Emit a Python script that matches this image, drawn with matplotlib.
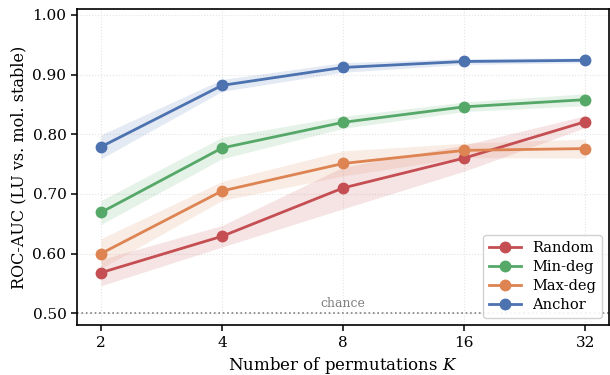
import numpy as np
import matplotlib
matplotlib.use("Agg")
import matplotlib.pyplot as plt

# data
K = [2, 4, 8, 16, 32]
random_mean = [0.568, 0.629, 0.710, 0.760, 0.821]
random_std = [0.022, 0.018, 0.035, 0.022, 0.010]
mindeg_mean = [0.669, 0.777, 0.820, 0.846, 0.858]
mindeg_std = [0.020, 0.018, 0.010, 0.008, 0.010]
maxdeg_mean = [0.600, 0.705, 0.751, 0.773, 0.776]
maxdeg_std = [0.025, 0.016, 0.021, 0.012, 0.016]
anchor_mean = [0.779, 0.882, 0.912, 0.922, 0.924]
anchor_std = [0.020, 0.010, 0.008, 0.005, 0.004]

series = [
    ("Random", random_mean, random_std, "#C44E52"),
    ("Min-deg", mindeg_mean, mindeg_std, "#55A868"),
    ("Max-deg", maxdeg_mean, maxdeg_std, "#DD8452"),
    ("Anchor", anchor_mean, anchor_std, "#4C72B0"),
]

plt.rcParams['font.family'] = 'DejaVu Serif'
plt.rcParams['mathtext.fontset'] = 'dejavuserif'

fig, ax = plt.subplots(figsize=(6.1, 3.75), dpi=100)
fig.subplots_adjust(left=0.126, right=0.999, bottom=0.133, top=0.976)

for name, m, s, c in series:
    m = np.array(m)
    s = np.array(s)
    ax.fill_between(K, m - s, m + s, color=c, alpha=0.15, linewidth=0)
    ax.plot(K, m, '-o', color=c, lw=2, ms=7.5, label=name)

ax.axhline(0.5, color='gray', ls=':', lw=1.2)
ax.text(8, 0.505, "chance", color='gray', fontsize=9, ha='center', va='bottom')

ax.set_xscale('log', base=2)
ax.set_xticks(K)
ax.set_xticklabels([str(k) for k in K])
ax.minorticks_off()
ax.set_ylim(0.48, 1.01)
ax.set_yticks([0.5, 0.6, 0.7, 0.8, 0.9, 1.0])
ax.set_yticklabels([f"{v:.2f}" for v in [0.5, 0.6, 0.7, 0.8, 0.9, 1.0]])
ax.tick_params(labelsize=11, width=1.1, length=4)
for sp in ax.spines.values():
    sp.set_linewidth(1.2)
ax.grid(True, color='#e4e4e4', ls=':', lw=0.8)
ax.set_axisbelow(True)

ax.set_xlabel("Number of permutations $K$", fontsize=12)
ax.set_ylabel("ROC-AUC (LU vs. mol. stable)", fontsize=11.5)

ax.legend(loc='lower right', fontsize=10.5, framealpha=0.9, edgecolor='#cccccc',
          handlelength=2.2, borderpad=0.4, labelspacing=0.35)

fig.savefig("out.png", dpi=100)
